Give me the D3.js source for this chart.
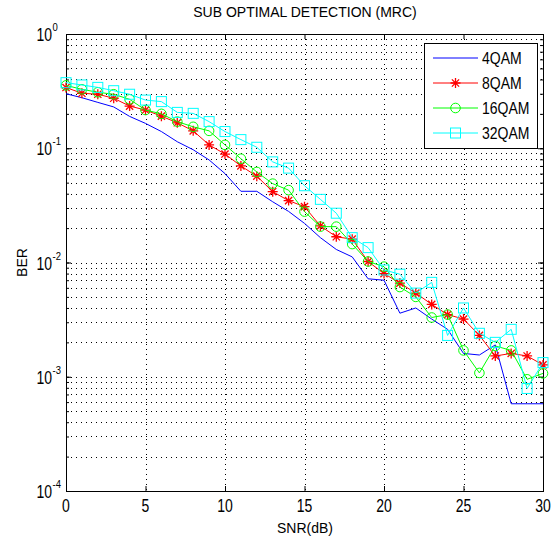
<!DOCTYPE html>
<html><head><meta charset="utf-8">
<script src="https://cdn.jsdelivr.net/npm/d3@7"></script>
<style>body{margin:0;background:#fff} text{font-family:"Liberation Sans",Arial,sans-serif;fill:#000}</style>
</head><body><svg id="c" width="554" height="538"></svg>
<script>
const snr = [0,1,2,3,4,5,6,7,8,9,10,11,12,13,14,15,16,17,18,19,20,21,22,23,24,25,26,27,28,29,30];
const ber4QAM = [0.30,0.277,0.252,0.23,0.19,0.165,0.14,0.114,0.097,0.079,0.060,0.042,0.042,0.034,0.028,0.022,0.0165,0.013,0.0112,0.0072,0.0070,0.0036,0.0040,0.0032,0.0026,0.0016,0.00155,0.0019,0.00058,0.00058,0.00058];
const ber8QAM = [0.34,0.303,0.297,0.274,0.234,0.216,0.191,0.167,0.142,0.107,0.089,0.070,0.057,0.0417,0.0348,0.0308,0.0209,0.0168,0.016,0.0102,0.0080,0.0066,0.0054,0.0043,0.0035,0.0032,0.0023,0.00152,0.0016,0.00152,0.00127];
const ber16QAM = [0.355,0.328,0.309,0.297,0.268,0.216,0.200,0.171,0.154,0.142,0.107,0.081,0.062,0.049,0.043,0.0279,0.0206,0.0206,0.0145,0.0102,0.0092,0.0061,0.0050,0.0033,0.0035,0.0017,0.00108,0.00186,0.0017,0.00095,0.00107];
const ber32QAM = [0.375,0.358,0.341,0.319,0.297,0.264,0.256,0.206,0.202,0.171,0.140,0.119,0.102,0.076,0.067,0.047,0.0357,0.027,0.0165,0.0135,0.0086,0.0079,0.0054,0.0067,0.0023,0.0040,0.0024,0.0020,0.0026,0.00079,0.00133];
const seriesNames = ["4QAM","8QAM","16QAM","32QAM"];
const xTicks = [0,5,10,15,20,25,30];
const yDecades = [-4,-3,-2,-1,0];
const titleText = "SUB OPTIMAL DETECTION (MRC)";
const xLabel = "SNR(dB)";
const yLabel = "BER";

const L=66,R=543,T=34,B=491;
const svg = d3.select("#c");
const x = d3.scaleLinear().domain([0,30]).range([L,R]);
const y = d3.scaleLog().domain([1e-4,1]).range([B,T]);

const yMinor = [];
for (let e=-4;e<0;e++) for (let m=1;m<10;m++) yMinor.push(m*Math.pow(10,e));
yMinor.push(1);

// grid
const grid = svg.append("g").attr("stroke","#000").attr("stroke-width",1).attr("stroke-dasharray","1,4");
grid.selectAll(".gx").data(xTicks.filter(d=>d>0&&d<30)).join("line")
  .attr("x1",d=>Math.round(x(d))+0.5).attr("x2",d=>Math.round(x(d))+0.5).attr("y1",T).attr("y2",B);
grid.selectAll(".gy").data(yMinor.filter(d=>d>1e-4&&d<1)).join("line")
  .attr("y1",d=>Math.round(y(d))+0.5).attr("y2",d=>Math.round(y(d))+0.5).attr("x1",L).attr("x2",R);

// axes (inward ticks)
svg.append("g").attr("transform",`translate(0,${B})`)
  .call(d3.axisBottom(x).tickValues(xTicks).tickSize(-5).tickFormat(""));
svg.append("g").attr("transform",`translate(0,${T})`)
  .call(d3.axisTop(x).tickValues(xTicks).tickSize(-5).tickFormat(""));
svg.append("g").attr("transform",`translate(${L},0)`)
  .call(d3.axisLeft(y).tickValues(yMinor).tickSize(-3).tickFormat(""));
svg.append("g").attr("transform",`translate(${R},0)`)
  .call(d3.axisRight(y).tickValues(yMinor).tickSize(-3).tickFormat(""));
svg.append("g").attr("transform",`translate(${L},0)`)
  .call(d3.axisLeft(y).tickValues(yDecades.map(e=>Math.pow(10,e))).tickSize(-5).tickFormat(""));
svg.append("g").attr("transform",`translate(${R},0)`)
  .call(d3.axisRight(y).tickValues(yDecades.map(e=>Math.pow(10,e))).tickSize(-5).tickFormat(""));
svg.selectAll(".domain").remove();
svg.selectAll(".tick line").attr("stroke","#000");
svg.append("rect").attr("x",L+0.5).attr("y",T+0.5).attr("width",R-L).attr("height",B-T)
  .attr("fill","none").attr("stroke","#000").attr("stroke-width",1);

// tick labels (tall, narrow look)
svg.append("g").selectAll("text").data(xTicks).join("text")
  .attr("transform",d=>`translate(${x(d)},${B+21}) scale(1,1.3)`)
  .attr("text-anchor","middle").attr("font-size",14).text(d=>d);
const ylg = svg.append("g");
ylg.selectAll(".m").data(yDecades).join("text")
  .attr("transform",d=>`translate(52,${y(Math.pow(10,d))+7}) scale(1,1.3)`)
  .attr("text-anchor","end").attr("font-size",14).text("10");
ylg.selectAll(".e").data(yDecades).join("text")
  .attr("transform",d=>`translate(52.5,${y(Math.pow(10,d))-3}) scale(1,1.2)`)
  .attr("text-anchor","start").attr("font-size",9.5).text(d=>d);

// lines and markers
const series = [
  {name:seriesNames[0], v:ber4QAM, c:"#0000ff", m:"none"},
  {name:seriesNames[1], v:ber8QAM, c:"#ff0000", m:"star"},
  {name:seriesNames[2], v:ber16QAM, c:"#00ff00", m:"circle"},
  {name:seriesNames[3], v:ber32QAM, c:"#00ffff", m:"square"}
];
const line = d3.line().x((d,i)=>x(snr[i])).y(d=>y(d));
function marker(g, type, c){
  if (type==="star"){
    const s=5;
    g.append("path").attr("d",`M${-s},0H${s}M0,${-s}V${s}M${-s*0.72},${-s*0.72}L${s*0.72},${s*0.72}M${-s*0.72},${s*0.72}L${s*0.72},${-s*0.72}`)
      .attr("stroke",c).attr("stroke-width",1.3).attr("fill","none");
  } else if (type==="circle"){
    g.append("circle").attr("r",4.8).attr("fill","none").attr("stroke",c).attr("stroke-width",1);
  } else if (type==="square"){
    g.append("rect").attr("x",-5).attr("y",-5).attr("width",10).attr("height",10).attr("fill","none").attr("stroke",c).attr("stroke-width",1);
  }
}
const plot = svg.append("g");
series.forEach(s=>{
  plot.append("path").datum(s.v).attr("d",line).attr("fill","none").attr("stroke",s.c).attr("stroke-width",1);
  if (s.m!=="none") s.v.forEach((d,i)=>{
    const g = plot.append("g").attr("transform",`translate(${x(snr[i])},${y(d)})`);
    marker(g,s.m,s.c);
  });
});

// legend
const lg = svg.append("g");
lg.append("rect").attr("x",424.5).attr("y",43.5).attr("width",113).attr("height",105).attr("fill","#fff").attr("stroke","#000");
series.forEach((s,i)=>{
  const yy = 58+i*25;
  lg.append("line").attr("x1",433).attr("x2",478).attr("y1",yy).attr("y2",yy).attr("stroke",s.c).attr("stroke-width",1);
  const g = lg.append("g").attr("transform",`translate(455.5,${yy})`);
  marker(g,s.m,s.c);
  lg.append("text").attr("transform",`translate(482,${yy+5.5}) scale(1,1.15)`).attr("font-size",14).text(s.name);
});

// titles
svg.append("text").attr("x",305).attr("y",17).attr("text-anchor","middle").attr("font-size",14).text(titleText);
svg.append("text").attr("transform",`translate(305,${B+42}) scale(1,1.1)`).attr("text-anchor","middle").attr("font-size",14).text(xLabel);
svg.append("text").attr("transform",`translate(27,${(T+B)/2}) rotate(-90)`).attr("text-anchor","middle").attr("font-size",14).text(yLabel);
</script></body></html>
